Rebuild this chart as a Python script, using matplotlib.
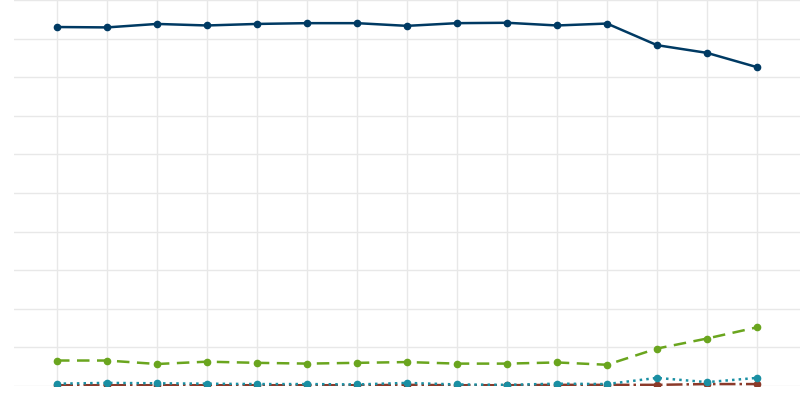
import matplotlib
matplotlib.use("Agg")
import matplotlib.pyplot as plt
import numpy as np

years = list(range(15))
s_blue = [93.0,92.9,93.8,93.4,93.8,94.0,94.0,93.3,94.0,94.1,93.4,93.9,88.3,86.3,82.6]
s_green = [6.6,6.6,5.7,6.3,6.0,5.8,6.0,6.2,5.8,5.8,6.1,5.5,9.7,12.3,15.2]
s_teal = [0.6,0.8,0.7,0.6,0.5,0.5,0.4,0.8,0.4,0.3,0.6,0.5,2.1,1.0,2.1]
s_red = [0.2,0.2,0.2,0.2,0.2,0.2,0.2,0.3,0.2,0.2,0.3,0.3,0.3,0.5,0.5]

fig = plt.figure(figsize=(8,4), dpi=100)
ax = fig.add_axes([14/800, 14/400, 786/800, 386/400])
ax.plot(years, s_blue, color="#003a63", lw=1.8, marker="o", ms=4.5, clip_on=True)
ax.plot(years, s_green, color="#6aa51e", lw=1.8, ls=(0,(5,3)), marker="o", ms=4.5)
ax.plot(years, s_red, color="#8b3a2a", lw=1.8, ls="-.", marker="o", ms=4.5)
ax.plot(years, s_teal, color="#1a8fa3", lw=1.8, ls=":", marker="o", ms=4.5)
ax.set_xlim(-0.86, 14.86)
ax.set_ylim(0, 100)
ax.set_xticks(years)
ax.set_yticks(np.arange(0, 101, 10))
ax.grid(True, color="#e8e8e8", lw=1)
ax.set_axisbelow(True)
ax.tick_params(length=0, labelleft=False, labelbottom=False)
for s in ax.spines.values():
    s.set_visible(False)
fig.savefig("out.png", dpi=100)
